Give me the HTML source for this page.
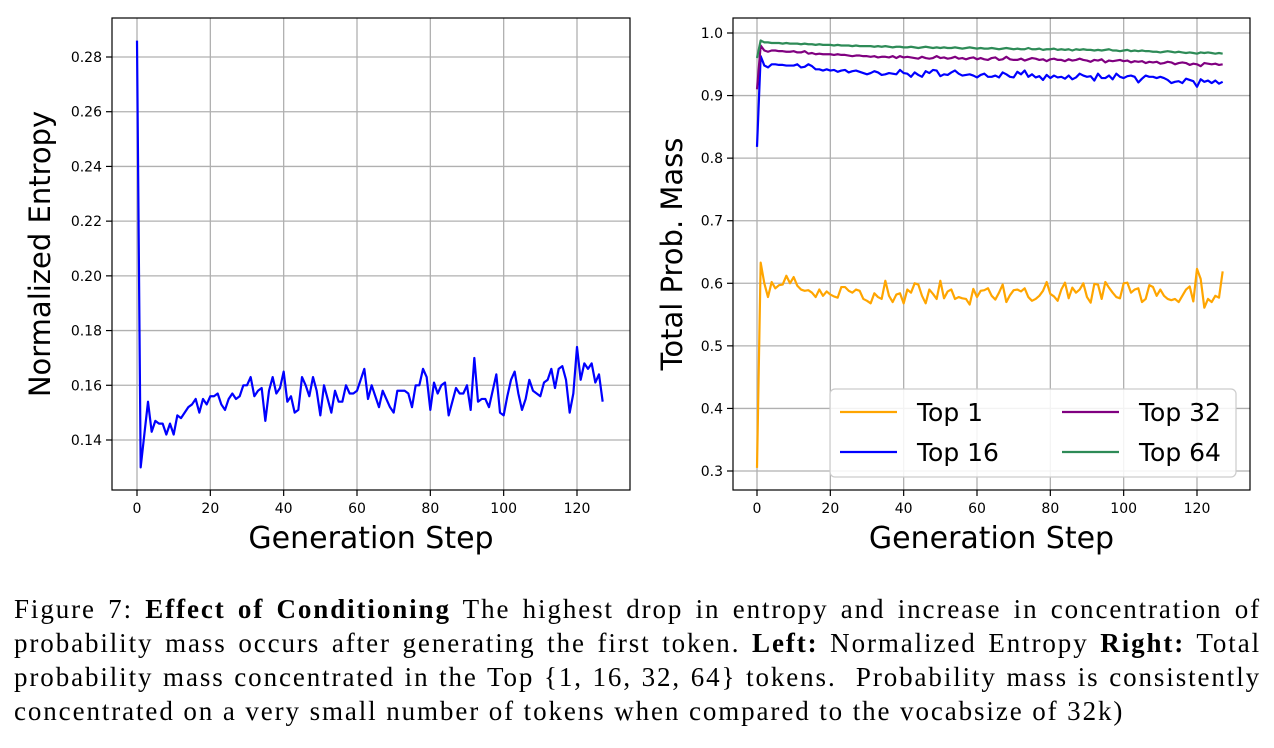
<!DOCTYPE html>
<html><head><meta charset="utf-8"><style>
body{margin:0;background:#fff;width:1274px;height:748px;overflow:hidden;position:relative;font-family:"Liberation Sans",sans-serif}
#cap{position:absolute;left:14px;top:592px;width:1247px;font-family:"Liberation Serif",serif;font-size:27px;line-height:34px;color:#000;letter-spacing:1.9px}
#cap .ln{text-align:justify;text-align-last:justify;white-space:nowrap}
#cap .ln.last{text-align-last:left}
svg text{font-family:"DejaVu Sans","Liberation Sans",sans-serif}
</style></head><body>
<svg id="fig" width="1274" height="590" style="position:absolute;left:0;top:0"></svg>
<div id="cap">
<div class="ln" style="white-space:normal">Figure 7: <b>Effect of Conditioning</b> The highest drop in entropy and increase in concentration of</div>
<div class="ln" style="white-space:normal">probability mass occurs after generating the first token. <b>Left:</b> Normalized Entropy <b>Right:</b> Total</div>
<div class="ln" style="white-space:normal">probability mass concentrated in the Top {1, 16, 32, 64} tokens. &nbsp;Probability mass is consistently</div>
<div class="ln last">concentrated on a very small number of tokens when compared to the vocabsize of 32k)</div>
</div>
<script>
const xTicks=[0,20,40,60,80,100,120];
const leftYTicks=[0.14,0.16,0.18,0.20,0.22,0.24,0.26,0.28];
const rightYTicks=[0.3,0.4,0.5,0.6,0.7,0.8,0.9,1.0];
const entropy=[0.286,0.130,0.142,0.154,0.143,0.147,0.146,0.146,0.142,0.146,
0.142,0.149,0.148,0.150,0.152,0.153,0.155,0.150,0.155,0.153,
0.156,0.156,0.157,0.153,0.151,0.155,0.157,0.155,0.156,0.160,
0.160,0.163,0.156,0.158,0.159,0.147,0.158,0.163,0.157,0.159,
0.165,0.154,0.156,0.150,0.151,0.163,0.160,0.156,0.163,0.158,
0.149,0.160,0.155,0.150,0.158,0.154,0.154,0.160,0.157,0.157,
0.158,0.162,0.166,0.155,0.160,0.156,0.152,0.158,0.155,0.152,
0.150,0.158,0.158,0.158,0.157,0.152,0.160,0.160,0.166,0.163,
0.151,0.161,0.157,0.160,0.161,0.149,0.154,0.159,0.157,0.157,
0.160,0.151,0.170,0.154,0.155,0.155,0.152,0.158,0.164,0.150,
0.149,0.156,0.162,0.165,0.157,0.151,0.155,0.162,0.158,0.157,
0.156,0.161,0.162,0.166,
0.159,0.166,0.167,0.162,0.150,0.157,0.174,0.162,0.168,0.166,
0.168,0.161,0.164,0.154];
const top1=[0.305,0.633,0.600,0.578,0.602,0.592,0.597,0.598,0.612,0.600,
0.610,0.596,0.590,0.588,0.589,0.585,0.578,0.590,0.580,0.587,
0.582,0.579,0.577,0.594,0.594,0.588,0.585,0.590,0.588,0.575,
0.572,0.568,0.584,0.578,0.575,0.604,0.580,0.570,0.582,0.584,
0.568,0.590,0.585,0.600,0.598,0.580,0.568,0.590,0.583,0.575,
0.604,0.576,0.587,0.590,0.575,0.578,0.576,0.575,0.566,0.591,
0.578,0.588,0.589,0.592,0.580,0.574,0.585,0.598,0.570,0.581,
0.589,0.590,0.587,0.592,0.578,0.572,0.575,0.580,0.588,0.602,
0.583,0.579,0.572,0.590,0.601,0.576,0.593,0.585,0.590,0.600,
0.578,0.569,0.599,0.598,0.575,0.602,0.593,0.585,0.578,0.576,
0.600,0.601,0.585,0.590,0.592,0.570,0.575,0.597,0.594,0.580,
0.590,0.580,0.575,0.573,0.575,0.570,0.580,0.590,0.595,0.571,
0.623,0.607,0.561,0.575,0.570,0.580,0.577,0.619];
const top16=[0.818,0.963,0.948,0.945,0.950,0.950,0.949,0.949,0.948,0.948,
0.948,0.950,0.945,0.946,0.950,0.947,0.942,0.942,0.940,0.942,
0.940,0.941,0.938,0.940,0.941,0.937,0.939,0.940,0.938,0.936,
0.934,0.936,0.939,0.937,0.933,0.934,0.936,0.935,0.934,0.941,
0.936,0.935,0.930,0.937,0.933,0.930,0.939,0.936,0.941,0.940,
0.931,0.934,0.933,0.937,0.940,0.935,0.932,0.933,0.934,0.932,
0.929,0.933,0.935,0.930,0.930,0.932,0.929,0.937,0.934,0.930,
0.929,0.938,0.934,0.940,0.930,0.934,0.929,0.931,0.925,0.933,
0.928,0.932,0.929,0.930,0.927,0.932,0.926,0.929,0.935,0.932,
0.930,0.931,0.924,0.935,0.928,0.928,0.932,0.926,0.935,0.930,
0.928,0.931,0.932,0.930,0.921,0.927,0.932,0.930,0.930,0.928,
0.930,0.928,0.925,0.920,0.922,0.923,0.920,0.927,0.925,0.923,
0.914,0.926,0.922,0.924,0.920,0.924,0.919,0.922];
const top32=[0.910,0.980,0.972,0.970,0.972,0.972,0.971,0.971,0.970,0.970,
0.971,0.969,0.969,0.971,0.967,0.968,0.966,0.967,0.966,0.966,
0.966,0.965,0.966,0.965,0.965,0.964,0.963,0.964,0.964,0.963,
0.963,0.962,0.963,0.961,0.962,0.962,0.961,0.963,0.960,0.963,
0.961,0.962,0.961,0.960,0.959,0.962,0.960,0.959,0.960,0.963,
0.960,0.961,0.959,0.960,0.962,0.959,0.960,0.958,0.960,0.961,
0.958,0.960,0.958,0.957,0.960,0.961,0.957,0.958,0.962,0.958,
0.957,0.957,0.959,0.956,0.958,0.960,0.959,0.957,0.958,0.955,
0.958,0.959,0.957,0.957,0.955,0.958,0.956,0.957,0.959,0.957,
0.956,0.954,0.957,0.956,0.958,0.953,0.956,0.955,0.956,0.957,
0.955,0.956,0.953,0.955,0.954,0.955,0.952,0.954,0.953,0.954,
0.951,0.952,0.954,0.953,0.950,0.952,0.953,0.952,0.949,0.951,
0.950,0.947,0.952,0.951,0.950,0.951,0.949,0.950];
const top64=[0.960,0.988,0.985,0.985,0.984,0.984,0.984,0.983,0.984,0.983,
0.983,0.983,0.982,0.983,0.982,0.982,0.981,0.982,0.981,0.981,
0.981,0.980,0.981,0.980,0.980,0.980,0.979,0.980,0.979,0.979,
0.979,0.979,0.978,0.979,0.978,0.979,0.978,0.977,0.978,0.978,
0.977,0.977,0.978,0.977,0.976,0.977,0.978,0.977,0.976,0.977,
0.976,0.977,0.976,0.976,0.977,0.976,0.975,0.976,0.977,0.976,
0.975,0.976,0.975,0.975,0.976,0.975,0.974,0.975,0.976,0.975,
0.974,0.975,0.974,0.974,0.976,0.974,0.974,0.975,0.973,0.974,
0.974,0.975,0.973,0.974,0.973,0.974,0.972,0.974,0.973,0.974,
0.973,0.973,0.972,0.973,0.972,0.973,0.974,0.972,0.972,0.971,
0.972,0.973,0.971,0.972,0.971,0.972,0.971,0.971,0.970,0.970,
0.969,0.970,0.971,0.970,0.969,0.970,0.969,0.968,0.969,0.968,
0.967,0.969,0.968,0.969,0.968,0.967,0.968,0.967];

const NS='http://www.w3.org/2000/svg';
const svg=document.getElementById('fig');
function mk(tag,attrs,parent){const e=document.createElementNS(NS,tag);for(const k in attrs)e.setAttribute(k,attrs[k]);(parent||svg).appendChild(e);return e;}

function panel(p){
  const g=mk('g',{});
  
  
  const X=v=>p.x0+(v-0)*(p.x120-p.x0)/120;
  const Y=v=>p.yA+(v-p.vA)*(p.yB-p.yA)/(p.vB-p.vA);
  xTicks.forEach(t=>{
    const l=mk('line',{x1:X(t),x2:X(t),y1:p.top,y2:p.bot,stroke:'#b0b0b0','stroke-width':1.3},g);
    
    mk('line',{x1:X(t),x2:X(t),y1:p.bot,y2:p.bot+6,stroke:'#000','stroke-width':1.2},g);
    const tx=mk('text',{x:X(t),y:p.bot+23,'font-size':14,'text-anchor':'middle'},g);tx.textContent=t;
    
  });
  p.yTicks.forEach(t=>{
    const l=mk('line',{x1:p.left,x2:p.right,y1:Y(t),y2:Y(t),stroke:'#b0b0b0','stroke-width':1.3},g);
    
    mk('line',{x1:p.left-6,x2:p.left,y1:Y(t),y2:Y(t),stroke:'#000','stroke-width':1.2},g);
    const tx=mk('text',{x:p.left-10,y:Y(t)+5,'font-size':14,'text-anchor':'end'},g);tx.textContent=t.toFixed(p.dec);
    
  });
  p.series.forEach(s=>{
    const d=s.data.map((v,i)=>(i?'L':'M')+X(i).toFixed(2)+','+Y(v).toFixed(2)).join('');
    const path=mk('path',{d:d,fill:'none',stroke:s.color,'stroke-width':2.2,'stroke-linejoin':'round'},g);
    
  });
  const fr=mk('rect',{x:p.left,y:p.top,width:p.right-p.left,height:p.bot-p.top,fill:'none',stroke:'#000','stroke-width':1.2},g);
  
  const xt=mk('text',{x:(p.left+p.right)/2,y:548,'font-size':30,'text-anchor':'middle'},g);xt.textContent='Generation Step';
  
  const cy=(p.top+p.bot)/2;
  const yt=mk('text',{x:p.ytx,y:cy,'font-size':29,'text-anchor':'middle',transform:'rotate(-90 '+p.ytx+' '+cy+')'},g);yt.textContent=p.ytitle;
  
  return g;
}
panel({name:'entropy-panel',left:112,right:630,top:18,bot:490,x0:137,x120:577,yA:57,vA:0.28,yB:440,vB:0.14,yTicks:leftYTicks,dec:2,ytitle:'Normalized Entropy',ytx:50,
  series:[{name:'entropy-line',data:entropy,color:'#0000ff'}]});
panel({name:'prob-mass-panel',left:733,right:1250,top:18,bot:490,x0:757,x120:1197,yA:33,vA:1.0,yB:471,vB:0.3,yTicks:rightYTicks,dec:1,ytitle:'Total Prob. Mass',ytx:682,
  series:[{name:'top1-line',data:top1,color:'#ffa500'},{name:'top16-line',data:top16,color:'#0000ff'},{name:'top32-line',data:top32,color:'#800080'},{name:'top64-line',data:top64,color:'#2e8b57'}]});

const lg=mk('g',{});

mk('rect',{x:830,y:389,width:406,height:88,rx:5,fill:'#fff','fill-opacity':0.85,stroke:'#cccccc','stroke-width':1.2},lg);
const entries=[['Top 1','#ffa500',840,412],['Top 16','#0000ff',840,452],['Top 32','#800080',1062,412],['Top 64','#2e8b57',1062,452]];
entries.forEach(e=>{
  const eg=mk('g',{},lg);
  
  mk('line',{x1:e[2],x2:e[2]+57,y1:e[3],y2:e[3],stroke:e[1],'stroke-width':2.2},eg);
  const t=mk('text',{x:e[2]+77,y:e[3]+9,'font-size':25},eg);t.textContent=e[0];
});
</script>
</body></html>
